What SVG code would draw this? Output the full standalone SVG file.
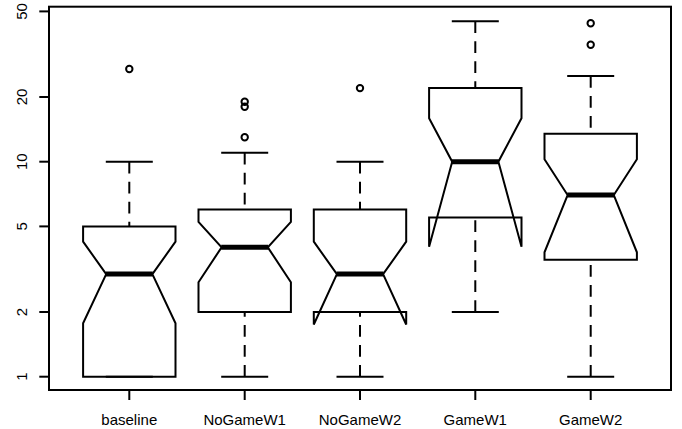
<svg xmlns="http://www.w3.org/2000/svg" width="682" height="429" viewBox="0 0 682 429">
<style>
.frame{fill:none;stroke:#000;stroke-width:2}
.box{fill:none;stroke:#000;stroke-width:2;stroke-linejoin:miter}
.med{stroke:#000;stroke-width:5}
.wh{stroke:#000;stroke-width:2;stroke-dasharray:11.7 8.3}
.cap{stroke:#000;stroke-width:2}
.out{fill:none;stroke:#000;stroke-width:2}
.tick{stroke:#000;stroke-width:2}
.lbl{font-family:"Liberation Sans",Arial,Helvetica,sans-serif;font-size:15px;fill:#000;text-anchor:middle}
</style>
<rect width="682" height="429" fill="#fff"/>
<g id="axes">
<rect class="frame" x="49" y="6.7" width="622" height="383.3"/>
<g id="yaxis">
<line class="tick" x1="39.3" y1="376.7" x2="49" y2="376.7"/>
<line class="tick" x1="39.3" y1="312" x2="49" y2="312"/>
<line class="tick" x1="39.3" y1="226.4" x2="49" y2="226.4"/>
<line class="tick" x1="39.3" y1="161.7" x2="49" y2="161.7"/>
<line class="tick" x1="39.3" y1="97" x2="49" y2="97"/>
<line class="tick" x1="39.3" y1="11.4" x2="49" y2="11.4"/>
<text class="lbl" transform="translate(26.5,376.7) rotate(-90)">1</text>
<text class="lbl" transform="translate(26.5,312) rotate(-90)">2</text>
<text class="lbl" transform="translate(26.5,226.4) rotate(-90)">5</text>
<text class="lbl" transform="translate(26.5,161.7) rotate(-90)">10</text>
<text class="lbl" transform="translate(26.5,97) rotate(-90)">20</text>
<text class="lbl" transform="translate(26.5,11.4) rotate(-90)">50</text>
</g>
<g id="xaxis">
<line class="tick" x1="129.3" y1="390" x2="129.3" y2="400"/>
<line class="tick" x1="244.7" y1="390" x2="244.7" y2="400"/>
<line class="tick" x1="360" y1="390" x2="360" y2="400"/>
<line class="tick" x1="475.3" y1="390" x2="475.3" y2="400"/>
<line class="tick" x1="590.7" y1="390" x2="590.7" y2="400"/>
<text class="lbl" x="129.3" y="425">baseline</text>
<text class="lbl" x="244.7" y="425">NoGameW1</text>
<text class="lbl" x="360" y="425">NoGameW2</text>
<text class="lbl" x="475.3" y="425">GameW1</text>
<text class="lbl" x="590.7" y="425">GameW2</text>
</g>
</g>
<g id="connectors">
<line class="wh" x1="129.3" y1="161.7" x2="129.3" y2="226.4"/>
<line class="wh" x1="244.7" y1="152.8" x2="244.7" y2="209.4"/>
<line class="wh" x1="244.7" y1="376.7" x2="244.7" y2="312"/>
<line class="wh" x1="360" y1="161.7" x2="360" y2="209.4"/>
<line class="wh" x1="360" y1="376.7" x2="360" y2="312"/>
<line class="wh" x1="475.3" y1="21.3" x2="475.3" y2="88.1"/>
<line class="wh" x1="475.3" y1="312" x2="475.3" y2="217.5"/>
<line class="wh" x1="590.7" y1="76.1" x2="590.7" y2="133.7"/>
<line class="wh" x1="590.7" y1="376.7" x2="590.7" y2="259.7"/>
</g>
<g id="baseline">
<polygon class="box" points="83.1,376.7 83.1,323.3 106.2,274.1 83.1,241.7 83.1,226.4 175.5,226.4 175.5,241.7 152.4,274.1 175.5,323.3 175.5,376.7"/>
<line class="med" x1="105.8" y1="274.1" x2="152.8" y2="274.1"/>
<line class="cap" x1="105.8" y1="161.7" x2="152.8" y2="161.7"/>
<line class="cap" x1="105.8" y1="376.7" x2="152.8" y2="376.7"/>
<circle class="out" cx="129.3" cy="69" r="3.2"/>
</g>
<g id="NoGameW1">
<polygon class="box" points="198.5,312 198.5,282.2 221.6,247.3 198.5,221.9 198.5,209.4 290.9,209.4 290.9,221.9 267.8,247.3 290.9,282.2 290.9,312"/>
<line class="med" x1="221.2" y1="247.3" x2="268.2" y2="247.3"/>
<line class="cap" x1="221.2" y1="152.8" x2="268.2" y2="152.8"/>
<line class="cap" x1="221.2" y1="376.7" x2="268.2" y2="376.7"/>
<circle class="out" cx="244.7" cy="137.2" r="3.2"/>
<circle class="out" cx="244.7" cy="106.8" r="3.2"/>
<circle class="out" cx="244.7" cy="101.8" r="3.2"/>
</g>
<g id="NoGameW2">
<polygon class="box" points="313.8,312 313.8,324.5 336.9,274.1 313.8,241.7 313.8,209.4 406.2,209.4 406.2,241.7 383.1,274.1 406.2,324.5 406.2,312"/>
<line class="med" x1="336.5" y1="274.1" x2="383.5" y2="274.1"/>
<line class="cap" x1="336.5" y1="161.7" x2="383.5" y2="161.7"/>
<line class="cap" x1="336.5" y1="376.7" x2="383.5" y2="376.7"/>
<circle class="out" cx="360" cy="88.1" r="3.2"/>
</g>
<g id="GameW1">
<polygon class="box" points="429.1,217.5 429.1,246.7 452.2,161.7 429.1,118.3 429.1,88.1 521.5,88.1 521.5,118.3 498.4,161.7 521.5,246.7 521.5,217.5"/>
<line class="med" x1="451.8" y1="161.7" x2="498.8" y2="161.7"/>
<line class="cap" x1="451.8" y1="21.3" x2="498.8" y2="21.3"/>
<line class="cap" x1="451.8" y1="312" x2="498.8" y2="312"/>
</g>
<g id="GameW2">
<polygon class="box" points="544.5,259.7 544.5,252.3 567.6,195 544.5,159.3 544.5,133.7 636.9,133.7 636.9,159.3 613.8,195 636.9,252.3 636.9,259.7"/>
<line class="med" x1="567.2" y1="195" x2="614.2" y2="195"/>
<line class="cap" x1="567.2" y1="76.1" x2="614.2" y2="76.1"/>
<line class="cap" x1="567.2" y1="376.7" x2="614.2" y2="376.7"/>
<circle class="out" cx="590.7" cy="44.7" r="3.2"/>
<circle class="out" cx="590.7" cy="23.3" r="3.2"/>
</g>
</svg>
